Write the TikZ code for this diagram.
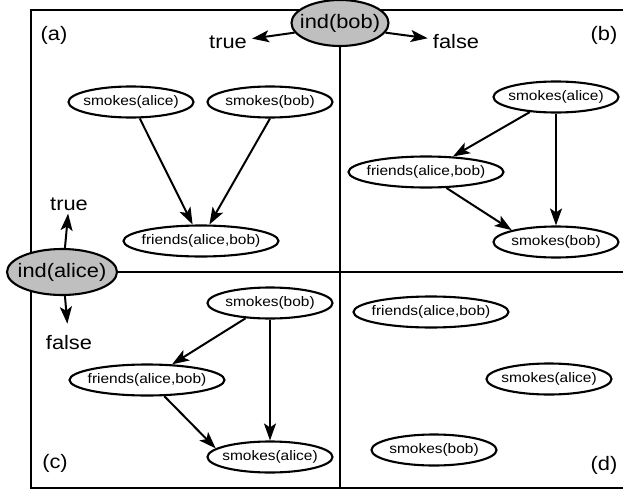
\documentclass[tikz,border=0pt]{standalone}
\usepackage{fontspec}
\setmainfont[FakeStretch=1.12]{Liberation Sans}
\usetikzlibrary{shapes.geometric, arrows.meta}
\tikzset{
    atom/.style   = {ellipse, draw, line width=2.1pt, fill=white, font=\fontsize{13.8}{15}\selectfont,
                     inner xsep=-10pt, inner ysep=0pt, minimum height=31pt, minimum width=#1},
    atom/.default = 125pt,
    ind/.style    = {ellipse, draw, line width=2.1pt, fill=black!25, font=\fontsize{19.5}{22}\selectfont,
                     inner xsep=-10pt, inner ysep=0pt, minimum height=46pt, minimum width=#1},
    val/.style    = {font=\fontsize{19.5}{22}\selectfont, inner xsep=5pt, inner ysep=3pt},
    tag/.style    = {font=\fontsize{19.5}{22}\selectfont},
    dep/.style    = {-{Stealth[length=17pt, width=12pt, inset=4pt]}, line width=2pt},
    panel/.style  = {line width=2.6pt},
}
\begin{document}
\begin{tikzpicture}[x=1pt, y=-1pt]
    \useasboundingbox (0,0) rectangle (623,492);
    \draw[panel] (623,10) -- (31,10) -- (31,488) -- (623,488);
    \node[ind=97pt] (ib) at (340,23) {ind(bob)};
    \node[ind=110pt] (ia) at (62,272) {ind(alice)};
    \coordinate (bot) at (340,488);
    \coordinate (rgt) at (623,272);
    \draw[panel] (ib.south) -- (bot);
    \draw[panel] (ia.east) -- (rgt);

    \node[val] (tb) at (228,42) {true};
    \node[val] (fb) at (456,42) {false};
    \node[val] (ta) at (69,204) {true};
    \node[val] (fa) at (69,343) {false};
    \draw[dep] (ib.192) -- (tb);
    \draw[dep] (ib.-12) -- (fb);
    \draw[dep] (ia.83) -- (ta);
    \draw[dep, shorten >=9pt] (ia.-83) -- (fa);

    \node[tag] (la) at (54,35) {(a)};
    \node[tag] (lb) at (604,35) {(b)};
    \node[tag] (lc) at (55,463) {(c)};
    \node[tag] (ld) at (604,465) {(d)};

    % (a)
    \node[atom] (sa1) at (131,102) {smokes(alice)};
    \node[atom] (sb1) at (270,102) {smokes(bob)};
    \node[atom=155pt] (fr1) at (201,241) {friends(alice,bob)};
    \draw[dep] (sa1.-62) -- (fr1.117);
    \draw[dep] (sb1.south) -- (fr1.63);

    % (b)
    \node[atom] (sa2) at (556,97) {smokes(alice)};
    \node[atom=155pt] (fr2) at (426,172) {friends(alice,bob)};
    \node[atom] (sb2) at (556,242) {smokes(bob)};
    \draw[dep] (sa2) -- (fr2);
    \draw[dep] (sa2) -- (sb2);
    \draw[dep] (fr2.-38) -- (sb2.165);

    % (c)
    \node[atom] (sb3) at (270,303) {smokes(bob)};
    \node[atom=155pt] (fr3) at (147,380) {friends(alice,bob)};
    \node[atom] (sa3) at (270,457) {smokes(alice)};
    \draw[dep] (sb3) -- (fr3);
    \draw[dep] (sb3) -- (sa3);
    \draw[dep] (fr3.-43) -- (sa3.171);

    % (d)
    \node[atom=155pt] (fr4) at (431,312) {friends(alice,bob)};
    \node[atom] (sa4) at (549,379) {smokes(alice)};
    \node[atom] (sb4) at (434,450) {smokes(bob)};
\end{tikzpicture}
\end{document}
